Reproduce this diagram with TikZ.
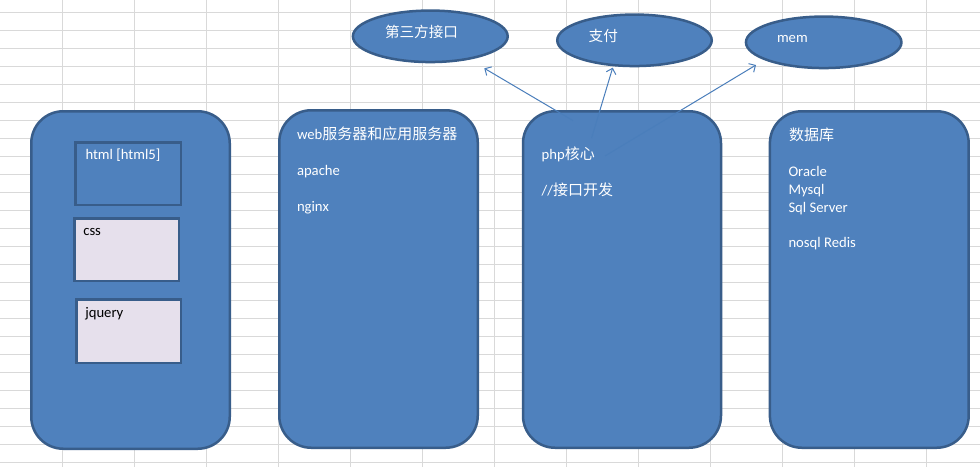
\documentclass[tikz,border=0pt]{standalone}
\usepackage{fontspec}
\setmainfont{Carlito}
\newfontfamily\cjk{Noto Sans CJK SC}
\usetikzlibrary{arrows.meta,shapes.geometric}
\definecolor{boxfill}{HTML}{4F81BD}
\definecolor{boxline}{HTML}{385D8A}
\definecolor{gridc}{HTML}{D9D9D9}
\definecolor{lav}{HTML}{E6E0EC}
\definecolor{arr}{HTML}{4A7EBB}
\newcommand{\zh}[1]{{\cjk\fontsize{15}{18}\selectfont #1}}
\newcommand{\zhb}[1]{{\cjk\fontsize{14.6}{18}\selectfont #1}}
\tikzset{
  gridline/.style={draw=gridc, line width=1pt},
  bigbox/.style={draw=boxline, line width=2.5pt, fill=boxfill, rounded corners=32pt,
    rectangle, inner sep=0pt, outer sep=0pt},
  bluebox/.style={draw=boxline, line width=2.5pt, fill=boxfill, rectangle, inner sep=0pt, outer sep=0pt},
  lavbox/.style={draw=boxline, line width=2.5pt, fill=lav, rectangle, inner sep=0pt, outer sep=0pt},
  ell/.style={draw=boxline, line width=2.5pt, fill=boxfill, ellipse, inner sep=0pt, outer sep=0pt},
  wtxt/.style={text=white, anchor=base west, inner sep=0pt, outer sep=0pt},
  btxt/.style={text=black, anchor=base west, inner sep=0pt, outer sep=0pt},
  arrline/.style={draw=arr, line width=1pt, -{Straight Barb[length=5pt,width=10pt]}}
}
\begin{document}
\begin{tikzpicture}[x=1pt,y=-1pt,font=\fontsize{14.67}{18}\selectfont]
\useasboundingbox (0,0) rectangle (980,467);
\fill[white] (0,0) rectangle (980,467);
% spreadsheet grid
\foreach \x in {62,134,...,926} \draw[gridline] (\x,0) -- (\x,467);
\foreach \k in {0,...,25} \draw[gridline] (0,{12.3+18*\k}) -- (980,{12.3+18*\k});

% big boxes
\node[bigbox, minimum width=198.5, minimum height=337.5] (b1) at (130.5,280) {};
\node[bigbox, minimum width=198.5, minimum height=337.5] (b2) at (378.5,279) {};
\node[bigbox, minimum width=198, minimum height=336.5] (b3) at (622,279.5) {};
\node[bigbox, minimum width=198.8, minimum height=336.5] (b4) at (869.3,279.5) {};

% inner boxes
\node[bluebox, minimum width=105.5, minimum height=62.5] (html) at (128,173.5) {};
\node[lavbox, minimum width=104.5, minimum height=62.8] (css) at (126.5,249.7) {};
\node[lavbox, minimum width=104.5, minimum height=63.2] (jq) at (128.5,331.2) {};

% ellipses
\node[ell, minimum width=154.8, minimum height=51.5] (e1) at (430.3,36.3) {};
\node[ell, minimum width=154.5, minimum height=51.5] (e2) at (634.5,40.3) {};
\node[ell, minimum width=155.5, minimum height=51.5] (e3) at (823.7,42.3) {};

% texts
\node[wtxt] (thtml) at (85.5,159.3) {html [html5]};
\node[btxt] (tcss) at (83.3,235.3) {css};
\node[btxt] (tjq) at (85.3,317.3) {jquery};

\node[wtxt] (tweb) at (297,139) {web\zh{服务器和应用服务器}};
\node[wtxt] (tapache) at (297,175) {apache};
\node[wtxt] (tnginx) at (297,211) {nginx};

\node[wtxt] (tphp) at (541.7,159.3) {php\zh{核心}};
\node[wtxt] (tif) at (541.7,195) {//\zh{接口开发}};

\node[wtxt] (tdb) at (789,140) {\zh{数据库}};
\node[wtxt] (tor) at (788.5,176) {Oracle};
\node[wtxt] (tmy) at (788.5,194) {Mysql};
\node[wtxt] (tsql) at (788.5,212) {Sql\ Server};
\node[wtxt] (tno) at (788.5,247.7) {nosql Redis};

\node[wtxt] (te1) at (385,37) {\zhb{第三方接口}};
\node[wtxt] (te2) at (588.7,41) {\zhb{支付}};
\node[wtxt] (te3) at (777,42) {mem};

% connectors
\coordinate (s1) at (573,120.6);
\coordinate (s2) at (591.6,138);
\coordinate (s3) at (605,156);
\coordinate (t1) at (484.3,68.3);
\coordinate (t2) at (612.7,67.7);
\coordinate (t3) at (756,65);
\draw[arrline] (s1) -- (t1);
\draw[arrline] (s2) -- (t2);
\draw[arrline] (s3) -- (t3);
\end{tikzpicture}
\end{document}
